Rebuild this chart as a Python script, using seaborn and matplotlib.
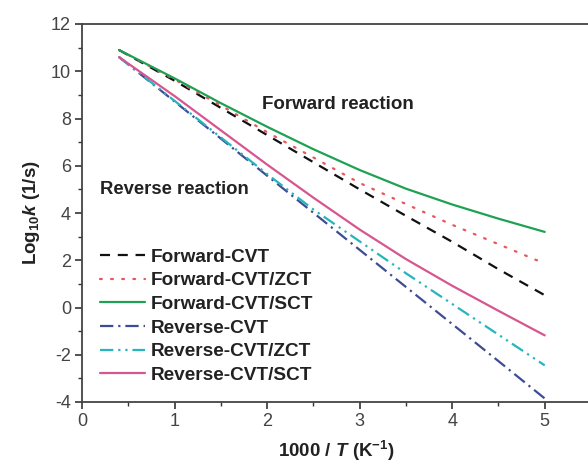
import matplotlib
matplotlib.use("Agg")
import matplotlib.pyplot as plt
from matplotlib.ticker import MultipleLocator
import numpy as np
import pandas as pd
import seaborn as sns

# inverse temperature, 1000/T in K^-1
inv_t = [0.4, 1.0, 1.5, 2.0, 2.5, 3.0, 3.5, 4.0, 4.5, 5.0]

# log10 of the rate constant (1/s)
fwd_cvt = [10.9, 9.6, 8.45, 7.3, 6.15, 5.0, 3.88, 2.78, 1.62, 0.52]
fwd_zct = [10.9, 9.65, 8.55, 7.42, 6.35, 5.27, 4.38, 3.5, 2.68, 1.86]
fwd_sct = [10.9, 9.7, 8.65, 7.65, 6.7, 5.82, 5.03, 4.36, 3.76, 3.2]
rev_cvt = [10.6, 8.72, 7.15, 5.58, 4.01, 2.44, 0.87, -0.7, -2.27, -3.85]
rev_zct = [10.6, 8.75, 7.2, 5.65, 4.15, 2.8, 1.45, 0.15, -1.15, -2.45]
rev_sct = [10.6, 8.95, 7.5, 6.05, 4.65, 3.3, 2.05, 0.92, -0.14, -1.18]

labels = ["Forward-CVT", "Forward-CVT/ZCT", "Forward-CVT/SCT",
          "Reverse-CVT", "Reverse-CVT/ZCT", "Reverse-CVT/SCT"]
series = [fwd_cvt, fwd_zct, fwd_sct, rev_cvt, rev_zct, rev_sct]
colors = ["#111111", "#e8555a", "#1fa154", "#3d4c94", "#26b5bd", "#d6568f"]
dashes = [(4.5, 3.5), (0.8, 4.2), "", (6, 2.2, 1, 2.2), (6, 2.2, 1, 2.2, 1, 2.2), ""]

df = pd.concat(
    [pd.DataFrame({"x": inv_t, "y": vals, "series": lab}) for lab, vals in zip(labels, series)],
    ignore_index=True,
)

sns.set_style("ticks")
plt.rcParams["font.family"] = ["Liberation Sans", "DejaVu Sans"]
plt.rcParams["axes.unicode_minus"] = False
plt.rcParams["mathtext.fontset"] = "custom"
plt.rcParams["mathtext.rm"] = "Liberation Sans:bold"
plt.rcParams["mathtext.it"] = "Liberation Sans:italic:bold"
plt.rcParams["mathtext.bf"] = "Liberation Sans:bold"

fig = plt.figure(figsize=(5.88, 4.68), dpi=100)
ax = fig.add_axes([82 / 588, 66 / 468, 509 / 588, 378 / 468])

for lab, col, dsh in zip(labels, colors, dashes):
    sub = df[df["series"] == lab]
    sns.lineplot(data=sub, x="x", y="y", ax=ax, color=col, linewidth=1.6,
                 label=lab, estimator=None, sort=True)
    line = ax.get_lines()[-1]
    if dsh:
        line.set_dashes(dsh)
    if lab == "Forward-CVT/ZCT":
        line.set_dash_capstyle("round")

ax.set_xlim(0, 5.5)
ax.set_ylim(-4, 12)
ax.xaxis.set_major_locator(MultipleLocator(1))
ax.xaxis.set_minor_locator(MultipleLocator(0.5))
ax.yaxis.set_major_locator(MultipleLocator(2))
ax.yaxis.set_minor_locator(MultipleLocator(1))
ax.tick_params(axis="both", which="major", direction="out", length=5, width=1.2,
               labelsize=13, colors="#333333", labelcolor="#444444", pad=3)
ax.tick_params(axis="both", which="minor", direction="out", length=3, width=1.0,
               colors="#333333")
for side in ["left", "bottom", "top", "right"]:
    ax.spines[side].set_visible(True)
    ax.spines[side].set_linewidth(1.3)
    ax.spines[side].set_color("#444444")

ax.set_xlabel(r"1000 / $\mathit{T}$ (K$^{\mathrm{-1}}$)", fontsize=13.5,
              fontweight="bold", color="#222222", labelpad=6)
ax.set_ylabel(r"Log$_{\mathrm{10}}$$\mathit{k}$ (1/s)", fontsize=13.5,
              fontweight="bold", color="#222222", labelpad=6)

ax.text(1.94, 8.6, "Forward reaction", fontsize=13.5, fontweight="bold",
        color="#222222", va="center", ha="left")
ax.text(0.19, 5.0, "Reverse reaction", fontsize=13.3, fontweight="bold",
        color="#222222", va="center", ha="left")

leg = ax.legend(loc="upper left", bbox_to_anchor=(0.036, 0.406), frameon=False,
                fontsize=13.7, handlelength=2.37, handletextpad=0.26,
                labelspacing=0.33, borderaxespad=0, borderpad=0)
for t in leg.get_texts():
    t.set_fontweight("bold")
    t.set_color("#222222")

fig.savefig("out.png", dpi=100)
